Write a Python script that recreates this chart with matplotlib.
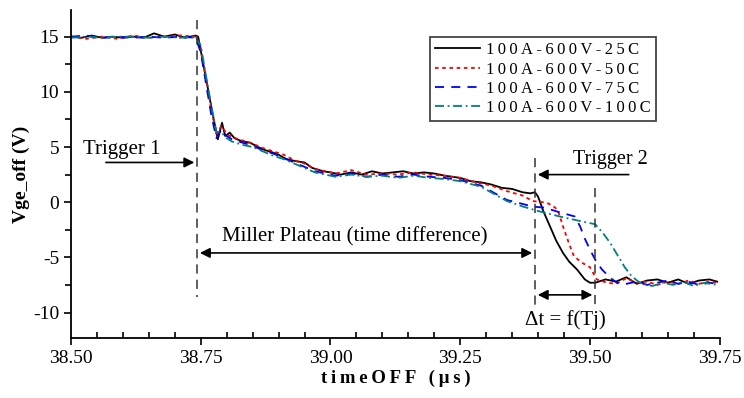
import numpy as np
import matplotlib
matplotlib.use('Agg')
import matplotlib.pyplot as plt
from matplotlib.ticker import MultipleLocator, FormatStrFormatter

plt.rcParams['font.family'] = ['Liberation Serif', 'DejaVu Serif']
plt.rcParams['axes.unicode_minus'] = False

# ---- data (time in us, Vge in V) ----
labels = ['100A-600V-25C', '100A-600V-50C', '100A-600V-75C', '100A-600V-100C']
colors = ['black', '#ff0000', '#0000ff', '#008080']

t_25 = [38.50, 38.52, 38.54, 38.56, 38.58, 38.60, 38.62, 38.64, 38.66, 38.68,
        38.70, 38.72, 38.74, 38.745, 38.755, 38.765, 38.775, 38.783, 38.791, 38.797,
        38.806, 38.815, 38.83, 38.845, 38.86, 38.875, 38.889, 38.90, 38.915, 38.935,
        38.95, 38.965, 38.986, 39.00, 39.02, 39.04, 39.06, 39.08, 39.10, 39.12,
        39.14, 39.16, 39.18, 39.20, 39.22, 39.25, 39.27, 39.29, 39.31, 39.33,
        39.35, 39.37, 39.385, 39.394, 39.40, 39.41, 39.423, 39.435, 39.448, 39.46,
        39.475, 39.49, 39.50, 39.51, 39.53, 39.55, 39.57, 39.59, 39.61, 39.63,
        39.65, 39.67, 39.69, 39.71, 39.73, 39.745]
v_25 = [15.0, 14.9, 15.1, 14.9, 15.0, 14.9, 15.0, 14.9, 15.3, 15.0,
        15.2, 14.9, 15.1, 15.0, 12.5, 10.0, 7.5, 5.7, 7.2, 6.0,
        6.3, 5.8, 5.5, 5.4, 5.0, 4.7, 4.5, 4.3, 3.9, 3.7,
        3.6, 3.1, 2.8, 2.7, 2.5, 2.7, 2.5, 2.8, 2.6, 2.7,
        2.8, 2.6, 2.7, 2.6, 2.4, 2.2, 1.9, 1.8, 1.6, 1.3,
        1.2, 0.9, 0.8, 0.9, 0.5, -0.8, -2.2, -3.5, -4.6, -5.4,
        -6.1, -7.0, -7.3, -7.3, -7.0, -7.2, -6.8, -7.4, -7.1, -7.0,
        -7.3, -7.0, -7.4, -7.1, -7.0, -7.2]

t_50 = [38.50, 38.53, 38.56, 38.59, 38.62, 38.65, 38.68, 38.71, 38.74, 38.75,
        38.76, 38.77, 38.78, 38.79, 38.80, 38.81, 38.83, 38.85, 38.87, 38.89,
        38.91, 38.93, 38.95, 38.97, 38.99, 39.01, 39.04, 39.07, 39.10, 39.13,
        39.16, 39.19, 39.22, 39.25, 39.28, 39.31, 39.34, 39.37, 39.39, 39.417,
        39.43, 39.438, 39.448, 39.46, 39.469, 39.485, 39.50, 39.513, 39.533, 39.55,
        39.57, 39.59, 39.61, 39.63, 39.65, 39.67, 39.69, 39.71, 39.73, 39.745]
v_50 = [15.0, 14.8, 15.0, 14.8, 15.1, 14.9, 15.0, 15.1, 15.0, 14.0,
        11.2, 8.5, 6.2, 6.9, 6.2, 5.9, 5.6, 5.3, 4.9, 4.6,
        4.3, 3.8, 3.5, 3.0, 2.8, 2.6, 2.9, 2.5, 2.6, 2.5,
        2.7, 2.5, 2.4, 2.2, 1.8, 1.5, 1.0, 0.6, 0.1, -0.05,
        -0.4, -0.7, -2.2, -3.8, -4.9, -5.5, -5.9, -7.0, -7.3, -7.4,
        -6.9, -7.3, -7.2, -7.5, -7.2, -7.4, -7.1, -7.4, -7.2, -7.3]

t_75 = [38.50, 38.53, 38.56, 38.59, 38.62, 38.65, 38.68, 38.71, 38.74, 38.75,
        38.76, 38.77, 38.78, 38.79, 38.80, 38.81, 38.83, 38.85, 38.87, 38.89,
        38.91, 38.93, 38.95, 38.97, 38.99, 39.01, 39.04, 39.07, 39.10, 39.13,
        39.16, 39.19, 39.22, 39.25, 39.29, 39.34, 39.39, 39.413, 39.44, 39.471,
        39.481, 39.49, 39.50, 39.51, 39.523, 39.54, 39.552, 39.57, 39.59, 39.61,
        39.63, 39.65, 39.67, 39.69, 39.71, 39.73, 39.745]
v_75 = [15.0, 15.1, 14.9, 15.0, 14.9, 15.0, 14.9, 15.0, 14.9, 13.6,
        10.8, 8.0, 5.8, 6.6, 6.0, 5.7, 5.4, 5.1, 4.7, 4.4,
        4.0, 3.6, 3.2, 2.8, 2.6, 2.4, 2.6, 2.3, 2.5, 2.3,
        2.5, 2.3, 2.2, 2.0, 1.5, 0.2, -0.4, -0.5, -0.9, -1.3,
        -2.2, -3.3, -4.3, -5.2, -6.1, -6.9, -7.3, -7.4, -7.2, -7.5,
        -7.3, -7.1, -7.4, -7.2, -7.5, -7.3, -7.4]

t_100 = [38.50, 38.53, 38.56, 38.59, 38.62, 38.65, 38.68, 38.71, 38.74, 38.75,
         38.76, 38.77, 38.78, 38.79, 38.80, 38.81, 38.83, 38.85, 38.87, 38.89,
         38.91, 38.93, 38.95, 38.97, 38.99, 39.01, 39.04, 39.07, 39.10, 39.13,
         39.16, 39.19, 39.22, 39.25, 39.29, 39.34, 39.371, 39.40, 39.442, 39.48,
         39.51, 39.525, 39.539, 39.553, 39.567, 39.58, 39.596, 39.62, 39.64, 39.66,
         39.68, 39.70, 39.72, 39.745]
v_100 = [14.9, 15.0, 14.9, 15.0, 15.0, 14.9, 15.0, 14.9, 15.0, 14.2,
         11.5, 8.8, 6.4, 6.3, 5.8, 5.5, 5.2, 5.0, 4.6, 4.2,
         3.9, 3.5, 3.1, 2.7, 2.5, 2.3, 2.5, 2.3, 2.4, 2.2,
         2.4, 2.2, 2.1, 1.9, 1.4, 0.1, -0.4, -0.8, -1.3, -1.7,
         -2.0, -2.8, -3.7, -4.8, -5.9, -6.7, -7.3, -7.6, -7.3, -7.5,
         -7.2, -7.6, -7.3, -7.5]

series_t = [t_25, t_50, t_75, t_100]
series_v = [v_25, v_50, v_75, v_100]
styles = ['-', (0, (2, 2)), (0, (5, 4)), (0, (5, 2, 1, 2))]

trig1 = 38.743
trig2 = 39.394
t_end = 39.51


def spaced(s):
    # the original typesetting is letter-spaced
    return '\u2009'.join(s)


fig = plt.figure(figsize=(7.44, 3.98), dpi=100)
ax = fig.add_axes([0.0954, 0.151, 0.872, 0.824])

for t, v, c, ls, lab in zip(series_t, series_v, colors, styles, labels):
    ax.plot(t, v, color=c, linestyle=ls, linewidth=1.3, label=spaced(lab))

# dashed markers
ax.plot([trig1, trig1], [16.5, -8.6], color='#333333', linestyle=(0, (6, 4)), linewidth=1.1)
ax.plot([trig2, trig2], [4.0, -9.3], color='#333333', linestyle=(0, (6, 4)), linewidth=1.1)
ax.plot([t_end, t_end], [1.3, -9.5], color='#333333', linestyle=(0, (6, 4)), linewidth=1.1)

arrow = dict(arrowstyle='-|>', color='black', lw=1.2, mutation_scale=15)
both = dict(arrowstyle='<|-|>', color='black', lw=1.2, mutation_scale=15)

ax.text(38.524, 4.8, 'Trigger 1', fontsize=15, va='center', ha='left')
ax.annotate('', xy=(trig1, 3.6), xytext=(38.562, 3.6), arrowprops=arrow)

ax.text(39.047, -3.1, 'Miller Plateau (time difference)', fontsize=15, va='center', ha='center')
ax.annotate('', xy=(trig1, -4.6), xytext=(trig2, -4.6), arrowprops=both)

ax.text(39.54, 3.9, 'Trigger 2', fontsize=14.5, va='center', ha='center')
ax.annotate('', xy=(trig2, 2.5), xytext=(39.58, 2.5), arrowprops=arrow)

ax.annotate('', xy=(trig2, -8.4), xytext=(t_end, -8.4), arrowprops=both)
ax.text(39.452, -10.7, '\u0394t = f(Tj)', fontsize=15, va='center', ha='center')

ax.set_xlim(38.5, 39.75)
ax.set_ylim(-12.3, 17.42)
ax.xaxis.set_major_locator(MultipleLocator(0.25))
ax.xaxis.set_minor_locator(MultipleLocator(0.05))
ax.xaxis.set_major_formatter(FormatStrFormatter('%.2f'))
ax.yaxis.set_major_locator(MultipleLocator(5))
ax.yaxis.set_minor_locator(MultipleLocator(2.5))

ax.spines['top'].set_visible(False)
ax.spines['right'].set_visible(False)
ax.spines['left'].set_linewidth(1.3)
ax.spines['bottom'].set_linewidth(1.3)
ax.tick_params(axis='both', which='major', labelsize=14, length=5, width=1.2)
ax.tick_params(axis='x', which='minor', direction='in', length=4, width=1.2)
ax.tick_params(axis='y', which='minor', direction='out', length=4, width=1.2)

ax.set_xlabel(spaced('timeOFF (\u00b5s)'), fontsize=13.5, fontweight='bold', labelpad=2)
ax.set_ylabel('Vge_off (V)', fontsize=14, fontweight='bold', labelpad=2)

leg = ax.legend(loc='upper left', bbox_to_anchor=(0.553, 0.917), fontsize=12,
                frameon=True, fancybox=False, edgecolor='#444444', framealpha=1,
                handlelength=2.7, borderpad=0.3, labelspacing=0.2, handletextpad=0.4,
                borderaxespad=0)
leg.get_frame().set_linewidth(1.3)

fig.savefig('out.png', dpi=100)
